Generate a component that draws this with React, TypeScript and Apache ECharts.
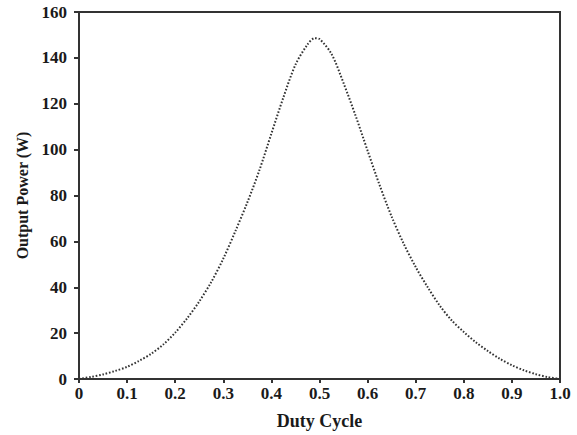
import React, { useEffect, useRef } from "react";
import * as echarts from "echarts";

const dutyCycle = [0, 0.025, 0.05, 0.075, 0.1, 0.125, 0.15, 0.175, 0.2, 0.225, 0.25, 0.275, 0.3, 0.325, 0.35, 0.375, 0.4, 0.425, 0.45, 0.475, 0.49, 0.5, 0.525, 0.55, 0.575, 0.6, 0.625, 0.65, 0.675, 0.7, 0.725, 0.75, 0.775, 0.8, 0.825, 0.85, 0.875, 0.9, 0.925, 0.95, 0.975, 1.0];
const outputPower = [0, 0.9, 2.0, 3.5, 5.3, 7.9, 11.0, 15.0, 20.2, 26.5, 33.8, 42.3, 52.5, 64.4, 77.0, 91.0, 107.0, 122.8, 137.0, 145.8, 148.6, 148.2, 141.7, 129.0, 114.8, 99.5, 84.5, 70.8, 59.0, 48.8, 40.0, 32.0, 25.5, 20.5, 16.0, 12.2, 8.8, 6.0, 3.8, 2.1, 0.8, 0];
const yTicks = [0, 20, 40, 60, 80, 100, 120, 140, 160];

export default function App() {
  const ref = useRef<HTMLDivElement>(null);
  useEffect(() => {
    if (!ref.current) return;
    const chart = echarts.init(ref.current, null, { renderer: "svg" });
    const font = "Liberation Serif";
    const axisColor = "#333";
    const textColor = "#1a1a1a";
    chart.setOption({
      animation: false,
      backgroundColor: "#fff",
      grid: {
        left: 79,
        right: 17,
        top: 12,
        bottom: 56,
        show: true,
        borderColor: axisColor,
        borderWidth: 2,
      },
      xAxis: {
        type: "value",
        min: 0,
        max: 1,
        interval: 0.1,
        name: "Duty Cycle",
        nameLocation: "middle",
        nameGap: 33,
        nameTextStyle: { fontFamily: font, fontWeight: "bold", fontSize: 18, color: textColor },
        axisLine: { show: true, lineStyle: { color: axisColor, width: 2 } },
        axisTick: { show: true, length: 4, inside: false, lineStyle: { color: axisColor, width: 2 } },
        splitLine: { show: false },
        axisLabel: {
          fontFamily: font,
          fontWeight: "bold",
          fontSize: 17,
          color: textColor,
          margin: 6,
          formatter: (v: number) => (v === 0 ? "0" : v.toFixed(1)),
        },
      },
      yAxis: {
        type: "value",
        min: 0,
        max: 160,
        interval: 20,
        name: "Output Power (W)",
        nameLocation: "middle",
        nameGap: 49,
        nameTextStyle: { fontFamily: font, fontWeight: "bold", fontSize: 16, color: textColor },
        axisLine: { show: true, lineStyle: { color: axisColor, width: 2 } },
        axisTick: { show: true, length: 5, inside: false, lineStyle: { color: axisColor, width: 2 } },
        splitLine: { show: false },
        axisLabel: {
          fontFamily: font,
          fontWeight: "bold",
          fontSize: 17,
          color: textColor,
          margin: 12,
          formatter: (v: number) => (yTicks.includes(v) ? String(v) : ""),
        },
      },
      series: [
        {
          type: "line",
          data: dutyCycle.map((d, i) => [d, outputPower[i]]),
          smooth: 0.3,
          showSymbol: false,
          lineStyle: { color: "#333", width: 2, type: [1.6, 1.8] },
        },
      ],
    });
    return () => chart.dispose();
  }, []);
  return (
    <div
      ref={ref}
      style={{ position: "absolute", left: 0, top: 0, width: 577, height: 435 }}
    />
  );
}
